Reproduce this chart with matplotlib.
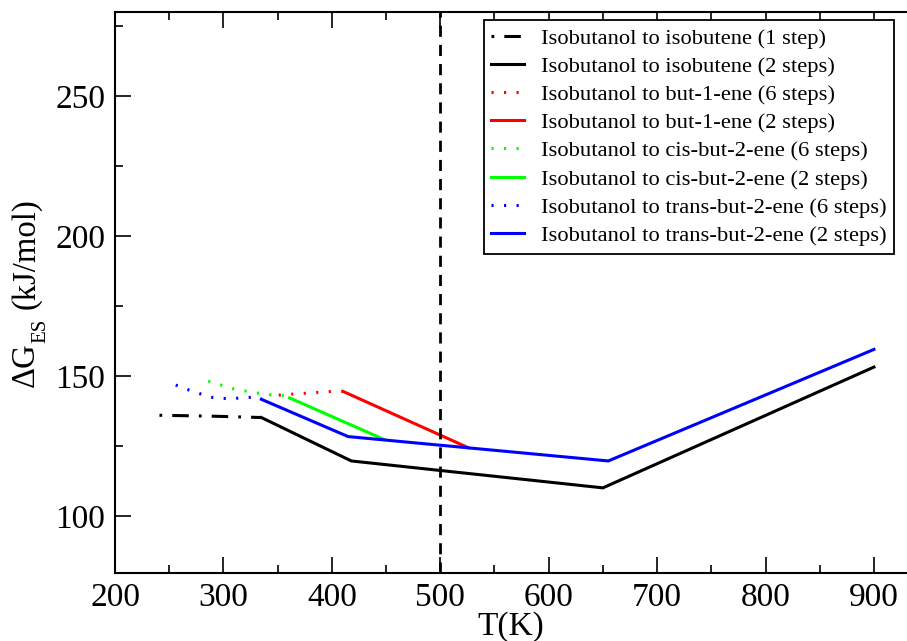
import matplotlib
matplotlib.use('Agg')
import matplotlib.pyplot as plt
from matplotlib.ticker import MultipleLocator

plt.rcParams['font.family'] = ['Liberation Serif', 'DejaVu Serif']

# isobutanol -> isobutene
T_ib1 = [241, 288, 335]
G_ib1 = [136.1, 135.8, 135.3]
T_ib2 = [335, 418, 650, 900]
G_ib2 = [135.3, 119.8, 110.2, 153.3]

# isobutanol -> but-1-ene
T_b1_6 = [351, 362, 373, 384, 395, 406, 411]
G_b1_6 = [143.3, 143.6, 143.9, 144.2, 144.5, 144.8, 144.6]
T_b1_2 = [411, 526]
G_b1_2 = [144.5, 124.5]

# isobutanol -> cis-but-2-ene
T_cis6 = [286, 297, 307, 318, 329, 339, 351, 361]
G_cis6 = [148.3, 147.0, 145.7, 144.9, 144.2, 143.5, 143.3, 142.8]
T_cis2 = [361, 448]
G_cis2 = [142.3, 127.5]

# isobutanol -> trans-but-2-ene
T_tr6 = [256, 266, 277, 287, 298, 309, 320, 331, 335]
G_tr6 = [146.9, 145.4, 144.0, 142.6, 142.1, 142.1, 142.4, 142.6, 142.2]
T_tr2 = [335, 415, 655, 900]
G_tr2 = [141.8, 128.5, 119.8, 159.6]

lw = 2.2
dot = (0.7, 3.4)
W, H = 907, 641

fig = plt.figure(figsize=(W/100, H/100), dpi=100)
ax = fig.add_axes([115/W, 1-572.5/H, 1-115/W, (572.5-12)/H])

ax.plot(T_ib1, G_ib1, color='black', lw=lw, dashes=(0.9, 3.3, 5.4, 3.3),
        label='Isobutanol to isobutene (1 step)')
ax.plot(T_ib2, G_ib2, color='black', lw=lw, label='Isobutanol to isobutene (2 steps)')
ax.plot(T_b1_6, G_b1_6, color='#ff0000', lw=lw, dashes=dot, label='Isobutanol to but-1-ene (6 steps)')
ax.plot(T_b1_2, G_b1_2, color='#ff0000', lw=lw, label='Isobutanol to but-1-ene (2 steps)')
ax.plot(T_cis6, G_cis6, color='#00ff00', lw=lw, dashes=dot, label='Isobutanol to cis-but-2-ene (6 steps)')
ax.plot(T_cis2, G_cis2, color='#00ff00', lw=lw, label='Isobutanol to cis-but-2-ene (2 steps)')
ax.plot(T_tr6, G_tr6, color='#0000ff', lw=lw, dashes=dot, label='Isobutanol to trans-but-2-ene (6 steps)')
ax.plot(T_tr2, G_tr2, color='#0000ff', lw=lw, label='Isobutanol to trans-but-2-ene (2 steps)')

ax.axvline(500, color='black', lw=2.0, dashes=(4, 2.9), zorder=5)

ax.set_xlim(200, 930.5)
ax.set_ylim(80, 280)
ax.xaxis.set_major_locator(MultipleLocator(100))
ax.xaxis.set_minor_locator(MultipleLocator(50))
ax.yaxis.set_major_locator(MultipleLocator(50))
ax.yaxis.set_minor_locator(MultipleLocator(25))
ax.tick_params(which='both', direction='in', top=True, right=False, width=1.2,
               labelsize=24)
ax.tick_params(which='major', length=11.5, pad=7)
ax.tick_params(which='minor', length=5.8)
ax.spines['right'].set_visible(False)
for s in ['left', 'bottom', 'top']:
    ax.spines[s].set_linewidth(1.5)

ax.set_xlabel('T(K)', fontsize=24, labelpad=-1)

# y label built in pieces so the subscript sits low like the original
ylab = dict(rotation=90, rotation_mode='anchor', ha='left', va='baseline')
fig.text(34/W, 1-387/H, '\u0394G', fontsize=23.5, **ylab)
fig.text(45/W, 1-343/H, 'ES', fontsize=15, **ylab)
fig.text(34/W, 1-309/H, '(kJ/mol)', fontsize=23.5, **ylab)

leg = ax.legend(loc='upper left', bbox_to_anchor=(483.5/W, 1-20/H),
                bbox_transform=fig.transFigure, fontsize=16.2, frameon=True,
                fancybox=False, framealpha=1, edgecolor='black',
                handlelength=1.45, handletextpad=0.75, labelspacing=0.33,
                borderpad=0.35, borderaxespad=0)
leg.get_frame().set_linewidth(1.3)

fig.savefig('out.png', dpi=100)
